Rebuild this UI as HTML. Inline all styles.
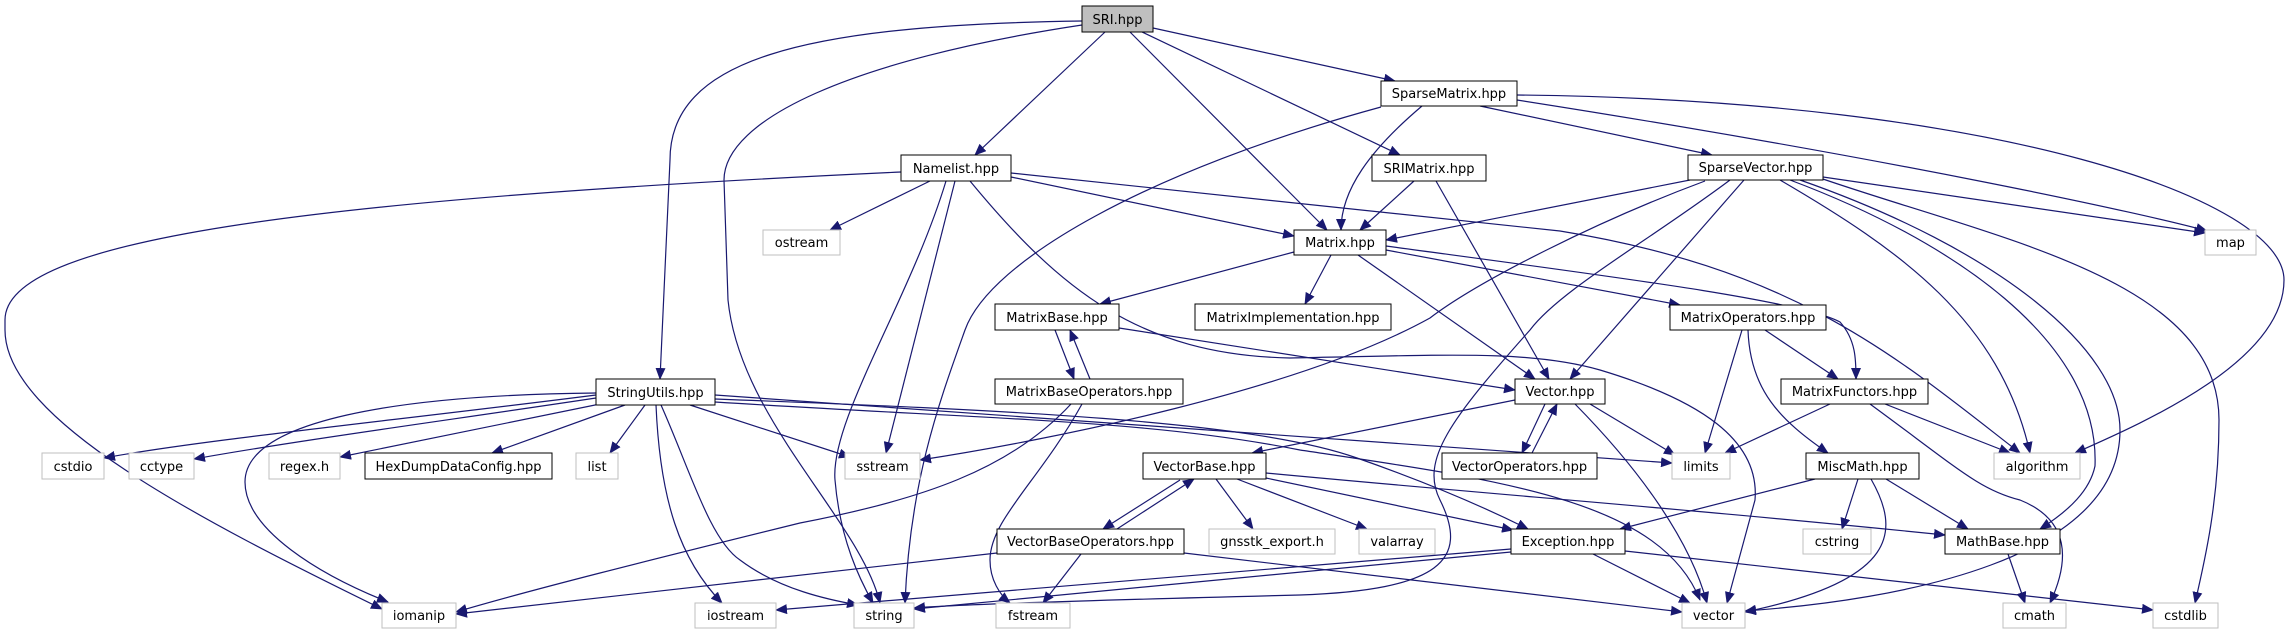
<!DOCTYPE html>
<html><head><meta charset="utf-8"><style>
html,body{margin:0;padding:0;background:#fff;}
svg{display:block;}
text{font-family:"DejaVu Sans","Liberation Sans",sans-serif;font-size:13px;fill:#000;}
.e{fill:none;stroke:#191970;stroke-width:1.2;marker-end:url(#a);}
.n{fill:#fff;stroke:#000;stroke-width:1;}
.x{fill:#fff;stroke:#bfbfbf;stroke-width:1;}
</style></head><body>
<svg width="2290" height="635" viewBox="0 0 2290 635" xmlns="http://www.w3.org/2000/svg">
<defs><marker id="a" markerWidth="12" markerHeight="10" refX="11" refY="5" orient="auto" markerUnits="userSpaceOnUse"><path d="M0,0 L12,5 L0,10 z" fill="#191970"/></marker></defs>
<!-- edges -->
<path class="e" d="M1082,21 C800,25 670,60 670,160 L660,379"/>
<path class="e" d="M1082,25 C850,60 724,120 724,180 L728,300 C740,420 860,520 880,603"/>
<path class="e" d="M1105,32 L975,155"/>
<path class="e" d="M1130,32 L1327,230"/>
<path class="e" d="M1142,32 L1400,155"/>
<path class="e" d="M1153,28 L1395,81"/>
<path class="e" d="M1422,106 C1370,150 1341,190 1341,230"/>
<path class="e" d="M1381,107 C1150,170 990,260 965,330 C940,400 910,480 905,603"/>
<path class="e" d="M1480,106 L1712,155"/>
<path class="e" d="M1517,95 C2000,100 2284,200 2284,280 C2284,360 2150,420 2075,453"/>
<path class="e" d="M1517,100 C1900,160 2150,215 2207,231"/>
<path class="e" d="M1823,177 L2205,233"/>
<path class="e" d="M1690,180 L1386,240"/>
<path class="e" d="M1705,181 C1600,220 1480,280 1430,318 C1300,390 1050,440 920,460"/>
<path class="e" d="M1744,180 L1570,379"/>
<path class="e" d="M1730,180 C1650,240 1560,290 1530,330 C1450,420 1420,460 1440,500 C1470,560 1440,590 1300,595 C1100,600 950,605 914,608"/>
<path class="e" d="M1800,180 C2000,250 2120,350 2120,430 C2120,560 1900,600 1745,611"/>
<path class="e" d="M1780,180 C1900,250 2000,320 2030,453"/>
<path class="e" d="M1790,180 C1950,240 2100,340 2095,466 C2090,490 2070,510 2040,529"/>
<path class="e" d="M1820,178 C2000,240 2219,280 2219,420 C2219,500 2205,560 2195,603"/>
<path class="e" d="M1414,181 L1360,230"/>
<path class="e" d="M1436,181 L1549,379"/>
<path class="e" d="M930,181 L830,230"/>
<path class="e" d="M1011,177 L1294,236"/>
<path class="e" d="M1011,173 L1560,231 C1800,270 1900,360 2020,453"/>
<path class="e" d="M970,181 C1060,290 1140,355 1290,358 C1450,355 1530,350 1600,370 C1700,400 1760,440 1755,500 L1727,603"/>
<path class="e" d="M955,181 L886,453"/>
<path class="e" d="M946,181 C910,300 830,420 835,480 C840,540 860,580 873,603"/>
<path class="e" d="M901,172 C300,200 5,240 5,320 L5,330 C5,420 200,520 382,609"/>
<path class="e" d="M1294,252 L1100,304"/>
<path class="e" d="M1331,255 L1305,304"/>
<path class="e" d="M1358,255 L1535,379"/>
<path class="e" d="M1386,250 L1680,305"/>
<path class="e" d="M1386,246 C1600,275 1800,300 1840,322 C1856,340 1856,360 1856,379"/>
<path class="e" d="M1055,330 L1074,379"/>
<path class="e" d="M1090,379 L1070,330"/>
<path class="e" d="M1119,328 L1515,390"/>
<path class="e" d="M1071,404 C1010,470 920,500 800,523 C650,560 530,590 456,612"/>
<path class="e" d="M1082,404 C1040,480 990,520 990,560 C990,580 1000,595 1010,603"/>
<path class="e" d="M596,395 C400,420 200,440 104,458"/>
<path class="e" d="M596,398 C450,420 300,440 194,459"/>
<path class="e" d="M600,404 L340,457"/>
<path class="e" d="M625,405 L492,453"/>
<path class="e" d="M645,405 L610,453"/>
<path class="e" d="M596,393 C400,395 245,420 245,482 C245,530 320,575 388,602"/>
<path class="e" d="M656,405 C660,500 680,560 722,603"/>
<path class="e" d="M661,405 C690,470 710,540 740,560 C780,590 830,600 858,605"/>
<path class="e" d="M690,405 L850,457"/>
<path class="e" d="M715,395 L1672,463"/>
<path class="e" d="M715,399 C1000,410 1250,420 1357,458 C1420,480 1480,505 1528,529"/>
<path class="e" d="M715,402 C1000,420 1150,420 1300,450 C1500,480 1660,500 1700,600"/>
<path class="e" d="M1515,400 L1252,453"/>
<path class="e" d="M1590,404 L1675,455"/>
<path class="e" d="M1575,404 C1640,470 1690,540 1707,603"/>
<path class="e" d="M1545,404 L1522,453"/>
<path class="e" d="M1532,453 L1557,404"/>
<path class="e" d="M1216,479 L1253,529"/>
<path class="e" d="M1237,479 L1367,529"/>
<path class="e" d="M1266,478 L1513,530"/>
<path class="e" d="M1266,473 C1500,495 1700,510 1945,535"/>
<path class="e" d="M1180,480 L1103,529"/>
<path class="e" d="M1117,529 L1194,479"/>
<path class="e" d="M997,553 L456,614"/>
<path class="e" d="M1081,554 L1043,603"/>
<path class="e" d="M1184,553 L1682,612"/>
<path class="e" d="M1511,549 L776,610"/>
<path class="e" d="M1511,552 L914,609"/>
<path class="e" d="M1593,554 L1690,603"/>
<path class="e" d="M1625,551 L2153,610"/>
<path class="e" d="M1815,479 L1620,529"/>
<path class="e" d="M1858,479 L1842,529"/>
<path class="e" d="M1871,479 C1900,530 1900,580 1745,612"/>
<path class="e" d="M1886,479 L1968,529"/>
<path class="e" d="M1742,330 L1705,453"/>
<path class="e" d="M1748,330 C1750,390 1780,420 1828,453"/>
<path class="e" d="M1765,330 L1838,379"/>
<path class="e" d="M1830,404 L1725,453"/>
<path class="e" d="M1885,404 L2010,453"/>
<path class="e" d="M1870,404 C1960,470 1980,490 2020,500 C2070,520 2070,560 2050,603"/>
<path class="e" d="M2008,554 L2025,603"/>
<!-- nodes -->
<g>
<rect x="1082" y="6" width="71" height="26" fill="#bfbfbf" stroke="#000"/><text x="1117.5" y="24" text-anchor="middle">SRI.hpp</text>
<rect class="n" x="1381" y="81" width="136" height="25"/><text x="1449" y="98" text-anchor="middle">SparseMatrix.hpp</text>
<rect class="n" x="901" y="155" width="110" height="26"/><text x="956" y="173" text-anchor="middle">Namelist.hpp</text>
<rect class="n" x="1372" y="155" width="114" height="26"/><text x="1429" y="173" text-anchor="middle">SRIMatrix.hpp</text>
<rect class="n" x="1688" y="155" width="135" height="25"/><text x="1755.5" y="172" text-anchor="middle">SparseVector.hpp</text>
<rect class="n" x="1294" y="230" width="92" height="25"/><text x="1340" y="247" text-anchor="middle">Matrix.hpp</text>
<rect class="x" x="763" y="230" width="77" height="25"/><text x="801.5" y="247" text-anchor="middle">ostream</text>
<rect class="x" x="2205" y="230" width="51" height="25"/><text x="2230.5" y="247" text-anchor="middle">map</text>
<rect class="n" x="995" y="304" width="124" height="26"/><text x="1057" y="322" text-anchor="middle">MatrixBase.hpp</text>
<rect class="n" x="1195" y="304" width="196" height="26"/><text x="1293" y="322" text-anchor="middle">MatrixImplementation.hpp</text>
<rect class="n" x="1670" y="305" width="156" height="25"/><text x="1748" y="322" text-anchor="middle">MatrixOperators.hpp</text>
<rect class="n" x="596" y="379" width="119" height="26"/><text x="655.5" y="397" text-anchor="middle">StringUtils.hpp</text>
<rect class="n" x="995" y="379" width="188" height="25"/><text x="1089" y="396" text-anchor="middle">MatrixBaseOperators.hpp</text>
<rect class="n" x="1515" y="379" width="90" height="25"/><text x="1560" y="396" text-anchor="middle">Vector.hpp</text>
<rect class="n" x="1781" y="379" width="147" height="25"/><text x="1854.5" y="396" text-anchor="middle">MatrixFunctors.hpp</text>
<rect class="x" x="42" y="453" width="62" height="26"/><text x="73" y="471" text-anchor="middle">cstdio</text>
<rect class="x" x="129" y="453" width="65" height="26"/><text x="161.5" y="471" text-anchor="middle">cctype</text>
<rect class="x" x="269" y="453" width="71" height="26"/><text x="304.5" y="471" text-anchor="middle">regex.h</text>
<rect class="n" x="365" y="453" width="187" height="26"/><text x="458.5" y="471" text-anchor="middle">HexDumpDataConfig.hpp</text>
<rect class="x" x="576" y="453" width="42" height="26"/><text x="597" y="471" text-anchor="middle">list</text>
<rect class="x" x="845" y="453" width="75" height="26"/><text x="882.5" y="471" text-anchor="middle">sstream</text>
<rect class="n" x="1143" y="453" width="123" height="26"/><text x="1204.5" y="471" text-anchor="middle">VectorBase.hpp</text>
<rect class="n" x="1442" y="453" width="155" height="26"/><text x="1519.5" y="471" text-anchor="middle">VectorOperators.hpp</text>
<rect class="x" x="1672" y="453" width="58" height="26"/><text x="1701" y="471" text-anchor="middle">limits</text>
<rect class="n" x="1806" y="453" width="113" height="26"/><text x="1862.5" y="471" text-anchor="middle">MiscMath.hpp</text>
<rect class="x" x="1994" y="453" width="86" height="26"/><text x="2037" y="471" text-anchor="middle">algorithm</text>
<rect class="n" x="997" y="529" width="187" height="25"/><text x="1090.5" y="546" text-anchor="middle">VectorBaseOperators.hpp</text>
<rect class="x" x="1209" y="529" width="126" height="25"/><text x="1272" y="546" text-anchor="middle">gnsstk_export.h</text>
<rect class="x" x="1359" y="529" width="76" height="25"/><text x="1397" y="546" text-anchor="middle">valarray</text>
<rect class="n" x="1511" y="529" width="114" height="25"/><text x="1568" y="546" text-anchor="middle">Exception.hpp</text>
<rect class="x" x="1803" y="529" width="68" height="25"/><text x="1837" y="546" text-anchor="middle">cstring</text>
<rect class="n" x="1945" y="529" width="115" height="25"/><text x="2002.5" y="546" text-anchor="middle">MathBase.hpp</text>
<rect class="x" x="382" y="603" width="74" height="25"/><text x="419" y="620" text-anchor="middle">iomanip</text>
<rect class="x" x="695" y="603" width="81" height="25"/><text x="735.5" y="620" text-anchor="middle">iostream</text>
<rect class="x" x="854" y="603" width="60" height="25"/><text x="884" y="620" text-anchor="middle">string</text>
<rect class="x" x="996" y="603" width="74" height="25"/><text x="1033" y="620" text-anchor="middle">fstream</text>
<rect class="x" x="1682" y="603" width="63" height="25"/><text x="1713.5" y="620" text-anchor="middle">vector</text>
<rect class="x" x="2003" y="603" width="63" height="25"/><text x="2034.5" y="620" text-anchor="middle">cmath</text>
<rect class="x" x="2153" y="603" width="65" height="25"/><text x="2185.5" y="620" text-anchor="middle">cstdlib</text>
</g>
</svg>
</body></html>
